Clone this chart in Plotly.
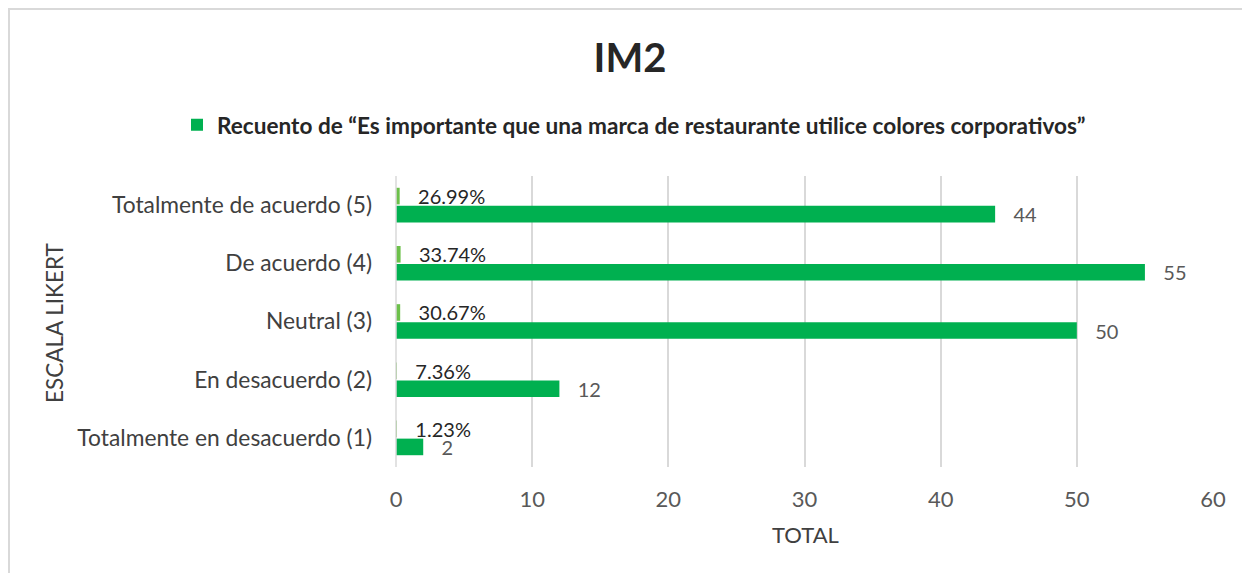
import plotly.graph_objects as go

categories = [
    "Totalmente en desacuerdo (1)",
    "En desacuerdo (2)",
    "Neutral (3)",
    "De acuerdo (4)",
    "Totalmente de acuerdo (5)",
]
counts = [2, 12, 50, 55, 44]
shares = [0.0123, 0.0736, 0.3067, 0.3374, 0.2699]
share_labels = ["1.23%", "7.36%", "30.67%", "33.74%", "26.99%"]
x_ticks = [0, 10, 20, 30, 40, 50, 60]

FONT = "Lato"
OFF = 8  # page body margin
W, H = 1250 - OFF, 573 - OFF
L, R, T, B = 396 - OFF, 37, 176 - OFF, 106
pw = W - L - R
ph = H - T - B
PAD = "\u00a0\u00a0\u00a0"


def px(x):
    return (x - OFF - L) / pw


def py(y):
    return (H - B - (y - OFF)) / ph


fig = go.Figure()
fig.add_trace(go.Bar(
    y=categories, x=counts, orientation="h",
    name="Recuento de “Es importante que una marca de restaurante utilice colores corporativos”",
    marker=dict(color="#00B050", line=dict(width=0)),
    text=[PAD + str(c) for c in counts], textposition="outside", constraintext="none",
    textfont=dict(family=FONT, size=20, color="#595959"),
    cliponaxis=False, showlegend=True,
))
fig.add_trace(go.Bar(
    y=categories, x=shares, orientation="h",
    name="Porcentaje",
    marker=dict(color="#6CC04A", line=dict(width=0)),
    text=[PAD + s for s in share_labels], textposition="outside", constraintext="none",
    textfont=dict(family=FONT, size=20, color="#262626"),
    cliponaxis=False, showlegend=False,
))

fig.update_layout(
    width=W, height=H,
    paper_bgcolor="white", plot_bgcolor="white",
    margin=dict(l=L, r=R, t=T, b=B, autoexpand=False),
    barmode="group", bargap=0.38, bargroupgap=0.08,
    font=dict(family=FONT, color="#404040"),
    title=dict(text="<b>IM2</b>", x=(630 - OFF) / W, xref="container", xanchor="center",
               y=1 - (58 - OFF) / H, yref="container", yanchor="middle",
               font=dict(family=FONT, size=40, color="#262626")),
    legend=dict(orientation="h", x=(634 - OFF) / W, xref="container", xanchor="center",
                y=1 - (125 - OFF) / H, yref="container", yanchor="middle",
                font=dict(family=FONT, size=22.6, color="#262626", weight="bold"),
                itemwidth=30, traceorder="normal"),
    xaxis=dict(range=[0, 60], tickvals=x_ticks, showgrid=True, gridcolor="#D9D9D9",
               gridwidth=1.5, zeroline=False, showline=False,
               tickfont=dict(family=FONT, size=22, color="#595959"),
               ticklabelstandoff=17, fixedrange=True),
    yaxis=dict(type="category", categoryorder="array", categoryarray=categories,
               showgrid=False, zeroline=False, showline=False,
               tickfont=dict(family=FONT, size=22.8, color="#404040"),
               ticklabelstandoff=23),
    annotations=[
        dict(text="ESCALA LIKERT", textangle=-90, xref="paper", yref="paper",
             x=px(54), y=py(323), showarrow=False,
             xanchor="center", yanchor="middle",
             font=dict(family=FONT, size=22.5, color="#404040")),
        dict(text="TOTAL", xref="paper", yref="paper",
             x=px(805), y=py(534), showarrow=False,
             xanchor="center", yanchor="middle",
             font=dict(family=FONT, size=22, color="#404040")),
    ],
    shapes=[
        dict(type="rect", xref="paper", yref="paper",
             x0=px(9), x1=px(1262), y0=py(590), y1=py(9),
             line=dict(color="#D9D9D9", width=2), layer="below"),
        dict(type="line", xref="paper", yref="paper", x0=0, x1=0, y0=0, y1=1,
             line=dict(color="#D9D9D9", width=1.5)),
    ],
)

fig.write_html("out.html")
